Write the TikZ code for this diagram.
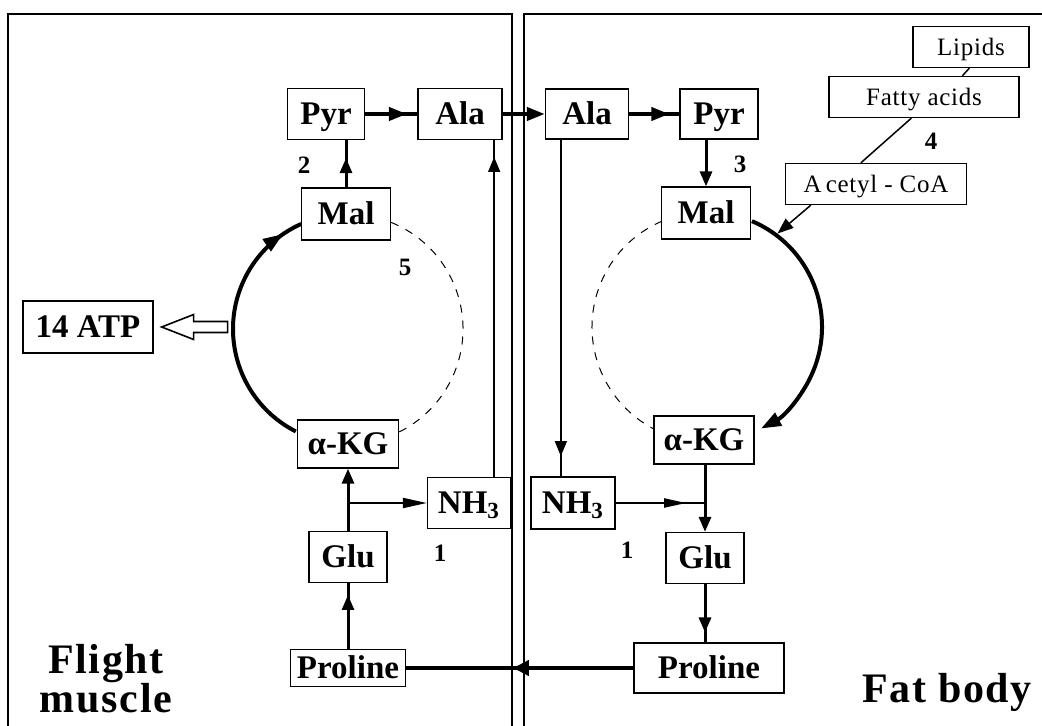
\documentclass[tikz,border=0pt]{standalone}
\usepackage{fontspec}
\setmainfont{Liberation Serif}
\usetikzlibrary{arrows.meta,decorations.markings,calc}

\begin{document}
\begin{tikzpicture}[x=0.5pt,y=-0.5pt,
  box/.style={draw, line width=0.65pt, fill=white, inner sep=0pt,
    font=\fontsize{16.5}{18}\selectfont\bfseries, text height=10.6pt, text depth=0pt},
  lbox/.style={draw, line width=0.65pt, fill=white, inner sep=0pt,
    font=\fontsize{12.5}{14}\selectfont\addfontfeature{LetterSpace=3}, text height=8.4pt, text depth=0pt},
  num/.style={font=\fontsize{12.5}{14}\selectfont\bfseries, inner sep=0pt},
  title/.style={font=\fontsize{21}{19.5}\selectfont\bfseries\addfontfeature{LetterSpace=4},
    inner sep=0pt, align=center},
  panel/.style={line width=0.6pt},
  heavy/.style={line width=2pt},
  medium/.style={line width=1.5pt},
  semi/.style={line width=1pt},
  fine/.style={line width=0.75pt},
  cyclepath/.style={line width=2pt},
  sidepath/.style={line width=0.5pt, dash pattern=on 4pt off 4pt},
  midtip/.style={postaction={decorate},
    decoration={markings, mark=at position #1 with {\arrow{>}}}},
  tipM/.style={>={Triangle[length=7.5pt,width=6pt]}},
  tipH/.style={>={Triangle[length=9pt,width=6.5pt]}},
  tipL/.style={>={Triangle[length=11pt,width=4.5pt]}}
]
\useasboundingbox (0,0) rectangle (1042,726);

% compartment outlines
\draw[panel] (8,726) -- (8,14) -- (512,14) -- (512,726);
\draw[panel] (524,726) -- (524,14) -- (1042,14);

% centres of the two cycles
\coordinate (cL) at (348,329);
\coordinate (cR) at (707,327);

% flight muscle cycle
\draw[sidepath] (cL) ++(-68:115) arc[start angle=-68, end angle=64, radius=115];
\draw[cyclepath, >={Triangle[length=10pt,width=7pt]}, midtip=0.92]
  (cL) ++(117:115) arc[start angle=117, end angle=246, radius=115];

% fat body cycle
\draw[sidepath] (cR) ++(247:115) arc[start angle=247, end angle=118, radius=115];
\draw[cyclepath, -{Triangle[length=10pt,width=7pt]}]
  (cR) ++(-67:115) arc[start angle=-67, end angle=62, radius=115];

% flight muscle metabolites
\node[box, minimum width=38.5pt, minimum height=25.5pt] (pyrL) at (326,114) {Pyr};
\node[box, minimum width=42pt,   minimum height=25.5pt] (alaL) at (460,114) {Ala};
\node[box, minimum width=44.5pt, minimum height=26pt]   (malL) at (346,214) {Mal};
\node[box, minimum width=65pt,   minimum height=26pt]   (atp)  at (88,327)  {14 ATP};
\node[box, minimum width=50.5pt, minimum height=24pt]   (akgL) at (348,444) {α-KG};
\node[box, minimum width=41.5pt, minimum height=25.5pt] (nh3L) at (469,503) {NH\textsubscript{3}};
\node[box, minimum width=39pt,   minimum height=25.5pt] (gluL) at (348,557) {Glu};
\node[box, minimum width=57.5pt, minimum height=18.5pt] (proL) at (348,668) {Proline};

% fat body metabolites
\node[box, minimum width=41.5pt, minimum height=25pt]   (alaR) at (587,114) {Ala};
\node[box, minimum width=39pt,   minimum height=25pt]   (pyrR) at (719,114) {Pyr};
\node[box, minimum width=44.5pt, minimum height=26pt]   (malR) at (706,213) {Mal};
\node[box, minimum width=50pt,   minimum height=24pt]   (akgR) at (704,440) {α-KG};
\node[box, minimum width=42pt,   minimum height=26pt]   (nh3R) at (573,503) {NH\textsubscript{3}};
\node[box, minimum width=39pt,   minimum height=25.5pt] (gluR) at (705,558) {Glu};
\node[box, minimum width=75pt,   minimum height=25pt]   (proR) at (709,668) {Proline};

\node[lbox, minimum width=58pt,   minimum height=20.5pt] (lipids) at (971,47)  {Lipids};
\node[lbox, minimum width=95pt,   minimum height=20.5pt] (fatty)  at (924,97)  {Fatty acids};
\node[lbox, minimum width=90.5pt, minimum height=20.5pt] (acetyl) at (876,184) {A\,cetyl - CoA};

% flight muscle connectors
\draw[medium, tipM, midtip=0.62] (malL.north) -- (malL.north |- pyrL.south);
\draw[heavy, tipH, midtip=0.8] (pyrL) -- (alaL);
\draw[heavy, -{Triangle[length=9pt,width=6.5pt]}] (alaL) -- (alaR);
\draw[fine, tipM, midtip=0.95]
  ([xshift=-8.5pt]nh3L.north east) -- ([xshift=-8.5pt]nh3L.north east |- alaL.south);
\draw[medium, -{Triangle[length=7.5pt,width=6pt]}] (gluL.north) -- (gluL.north |- akgL.south);
\draw[semi, -{Triangle[length=12pt,width=5pt]}] (gluL.north |- nh3L.west) -- (nh3L.west);
\draw[medium, tipM, midtip=0.82] (proL.north) -- (proL.north |- gluL.south);

% fat body connectors
\draw[heavy, tipH, midtip=0.8] (alaR) -- (pyrR);
\draw[medium, -{Triangle[length=7.5pt,width=6pt]}] (malR.north |- pyrR.south) -- (malR.north);
\draw[fine, tipM, midtip=0.94]
  ([xshift=8pt]alaR.south west) -- ([xshift=8pt]alaR.south west |- nh3R.north);
\draw[semi, tipL, midtip=0.79] (nh3R.east) -- (gluR.north |- nh3R.east);
\draw[medium, -{Triangle[length=7.5pt,width=6pt]}] (gluR.north |- akgR.south) -- (gluR.north);
\draw[medium, tipM, midtip=0.83] (gluR.south) -- (gluR.south |- proR.north);
\draw[heavy, >={Triangle[length=8pt,width=7.5pt]}, midtip=0.53] (proR) -- (proL);

% lipid supply
\draw[fine] ([xshift=28.5pt]lipids.south west) -- ([xshift=67pt]fatty.north west);
\draw[fine] ([xshift=41.5pt]fatty.south west) -- ([xshift=38pt]acetyl.north west);
\coordinate (acin) at ($(cR)+(-53:117)$);
\draw[fine, -{Triangle[length=8pt,width=6pt]}] ([xshift=13pt]acetyl.south west) -- (acin);

% energy yield
\coordinate (atptip) at ([xshift=4pt]atp.east);
\draw[line width=0.8pt, fill=white] (atptip) -- ++(32,-12.5) -- ++(0,7) -- ++(34,0)
  -- ++(0,11) -- ++(-34,0) -- ++(0,7) -- cycle;

% enzyme labels
\node[num] (n2)  at (304,165) {2};
\node[num] (n5)  at (405,267) {5};
\node[num] (n3)  at (740,164) {3};
\node[num] (n4)  at (931,141) {4};
\node[num] (n1L) at (440,553) {1};
\node[num] (n1R) at (627,550) {1};

% compartment names
\node[title, anchor=north] (fm) at (106,644) {Flight\\muscle};
\node[title, anchor=base] (fb) at (947,702) {Fat body};
\end{tikzpicture}
\end{document}
